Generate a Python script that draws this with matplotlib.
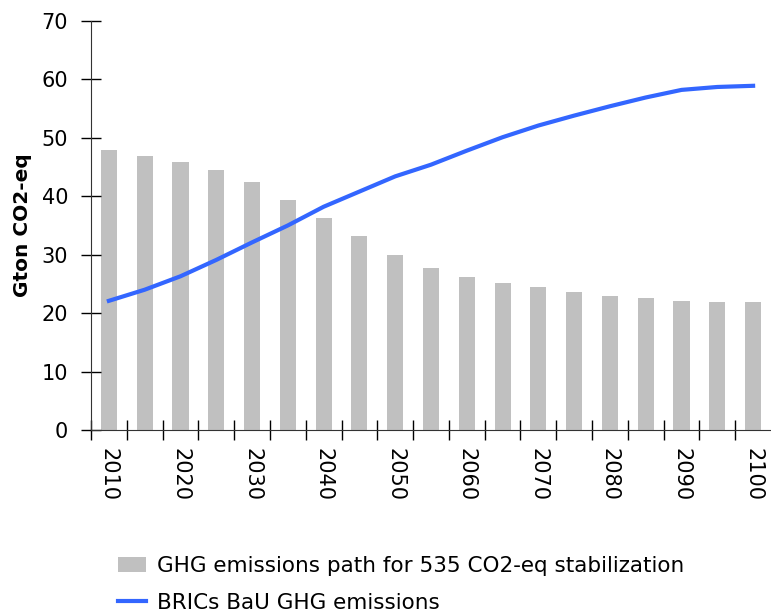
import matplotlib
matplotlib.use("Agg")
import matplotlib.pyplot as plt
import numpy as np

plt.rcParams['font.family'] = ['DejaVu Sans']

# data
years = list(range(2010, 2101, 5))
ghg_path = [47.9, 46.9, 45.8, 44.5, 42.4, 39.4, 36.2, 33.2, 30.0, 27.7,
            26.2, 25.1, 24.5, 23.6, 23.0, 22.5, 22.1, 21.9, 21.9]
bau = [22.1, 24.0, 26.3, 29.1, 32.1, 35.0, 38.2, 40.8, 43.4, 45.4,
       47.8, 50.1, 52.1, 53.8, 55.4, 56.9, 58.2, 58.7, 58.9]
tick_labels = [str(y) if y % 10 == 0 else '' for y in years]

fig = plt.figure(figsize=(7.71, 6.16), dpi=100)
ax = fig.add_axes([0.118, 0.302, 0.882, 0.664])

x = np.arange(len(years))
ax.bar(x, ghg_path, width=0.45, color='#c0c0c0',
       label='GHG emissions path for 535 CO2-eq stabilization')
ax.plot(x, bau, color='#3366ff', lw=3, label='BRICs BaU GHG emissions')

ax.set_xlim(-0.5, len(years) - 0.5)
ax.set_ylim(0, 70)
ax.set_yticks(range(0, 71, 10))

# labels on category centres, tick marks on category edges
ax.set_xticks(x[::2])
ax.set_xticklabels([tick_labels[i] for i in range(0, len(years), 2)], rotation=270)
ax.set_xticks(np.arange(-0.5, len(years) - 1, 1), minor=True)
ax.tick_params(axis='x', which='major', length=0, pad=13, labelsize=15)
ax.tick_params(axis='x', which='minor', direction='inout', length=15, width=1)
ax.tick_params(axis='y', direction='inout', length=15, width=1, labelsize=15, pad=9)

for s in ['top', 'right']:
    ax.spines[s].set_visible(False)
for s in ['left', 'bottom']:
    ax.spines[s].set_color('#333333')

ax.set_ylabel('Gton CO2-eq', fontsize=14.5, fontweight='bold', labelpad=7)

handles, labels = ax.get_legend_handles_labels()
fig.legend(handles[::-1], labels[::-1], loc='upper left', bbox_to_anchor=(0.153, 0.098),
           frameon=False, fontsize=15.5, handlelength=1.3, handletextpad=0.5,
           labelspacing=0.8, borderaxespad=0, borderpad=0)

fig.savefig('out.png', dpi=100)
